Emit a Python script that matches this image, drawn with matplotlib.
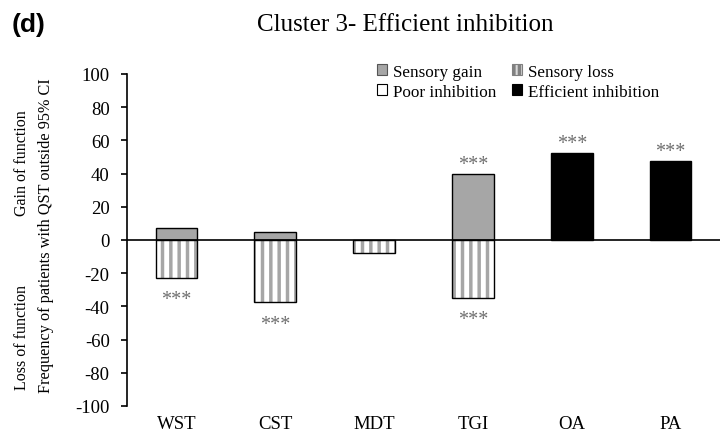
import matplotlib
matplotlib.use('Agg')
import matplotlib.pyplot as plt
from matplotlib.patches import Patch
import numpy as np

categories = ['WST', 'CST', 'MDT', 'TGI', 'OA', 'PA']
sensory_gain = [7.2, 5.0, 0.0, 40.0, 0.0, 0.0]
sensory_loss = [-22.7, -37.5, -7.8, -35.0, 0.0, 0.0]
poor_inhibition = [0.0, 0.0, 0.0, 0.0, 0.0, 0.0]
efficient_inhibition = [0.0, 0.0, 0.0, 0.0, 52.5, 47.5]
stars_above = ['', '', '', '***', '***', '***']
stars_below = ['***', '***', '', '***', '', '']
yticks = list(range(-100, 101, 20))

SERIF = 'Liberation Serif'
GRAY = '#a6a6a6'
plt.rcParams['hatch.linewidth'] = 2.5
plt.rcParams['hatch.color'] = GRAY

fig = plt.figure(figsize=(7.27, 4.35), dpi=100)
ax = fig.add_axes([127/727, 28/435, 593/727, 332/435])

x = np.arange(len(categories))
w = 0.42

# sensory gain
for xi, v in zip(x, sensory_gain):
    if v != 0:
        ax.bar(xi, v, w, color=GRAY, edgecolor='black', linewidth=1.0, zorder=2)
# sensory loss (striped)
for xi, v in zip(x, sensory_loss):
    if v != 0:
        ax.bar(xi, v, w, color='white', edgecolor=GRAY, hatch='||', linewidth=0, zorder=2)
        ax.bar(xi, v, w, fill=False, edgecolor='black', linewidth=1.0, zorder=3)
# poor inhibition
for xi, v in zip(x, poor_inhibition):
    if v != 0:
        ax.bar(xi, v, w, color='white', edgecolor='black', linewidth=1.0, zorder=2)
# efficient inhibition
for xi, v in zip(x, efficient_inhibition):
    if v != 0:
        ax.bar(xi, v, w, color='black', edgecolor='black', linewidth=1.0, zorder=2)

# significance stars
STAR_COLOR = '#6e6e6e'
for xi, s, g, p, e in zip(x, stars_above, sensory_gain, poor_inhibition, efficient_inhibition):
    if s:
        top = max(g, p, e)
        ax.annotate(s, (xi, top), xytext=(0, 3.5), textcoords='offset points',
                    ha='center', va='baseline', fontsize=14.5, color=STAR_COLOR,
                    family=SERIF)
for xi, s, l in zip(x, stars_below, sensory_loss):
    if s:
        ax.annotate(s, (xi, l), xytext=(0, -19), textcoords='offset points',
                    ha='center', va='baseline', fontsize=14.5, color=STAR_COLOR,
                    family=SERIF)

ax.axhline(0, color='black', linewidth=1.2, zorder=4)

ax.set_xlim(-0.5, 5.5)
ax.set_ylim(-100, 100)
ax.set_yticks(yticks)
ax.set_yticklabels([str(t) for t in yticks], family=SERIF, fontsize=13.5)
ax.set_xticks(x)
ax.set_xticklabels(categories, family=SERIF, fontsize=13.5)
ax.tick_params(axis='x', length=0, pad=6.5)
ax.tick_params(axis='y', direction='out', length=4.5, width=1.2, pad=8)
for sp in ['top', 'right', 'bottom']:
    ax.spines[sp].set_visible(False)
ax.spines['left'].set_linewidth(1.2)

# labels and titles
fig.text(405/727, 1 - 25/435, 'Cluster 3- Efficient inhibition', ha='center', va='center',
         family=SERIF, fontsize=18)
fig.text(12/727, 1 - 25/435, '(d)', ha='left', va='center', family='Liberation Sans',
         fontweight='bold', fontsize=19)
fig.text(46/727, 1 - 236/435, 'Frequency of patients with QST outside 95% CI',
         rotation=90, ha='center', va='center', family=SERIF, fontsize=11.7)
fig.text(22/727, 1 - 163/435, 'Gain of function', rotation=90, ha='center', va='center',
         family=SERIF, fontsize=11.5)
fig.text(22/727, 1 - 337/435, 'Loss of function', rotation=90, ha='center', va='center',
         family=SERIF, fontsize=11.5)

handles = [
    Patch(facecolor=GRAY, edgecolor='#555555', linewidth=0.8, label='Sensory gain'),
    Patch(facecolor='white', edgecolor='black', linewidth=0.8, label='Poor inhibition'),
    Patch(facecolor='#d9d9d9', edgecolor='#808080', linewidth=0.8, hatch='|||', label='Sensory loss'),
    Patch(facecolor='black', edgecolor='black', linewidth=0.8, label='Efficient inhibition'),
]
fig.legend(handles=handles, ncol=2, loc='upper left',
           bbox_to_anchor=(368/727, 1 - 56/435), frameon=False,
           prop={'family': SERIF, 'size': 12.3}, handlelength=0.6, handleheight=0.6,
           handletextpad=0.35, columnspacing=0.9, labelspacing=0.25, borderpad=0)

fig.savefig('out.png', dpi=100)
